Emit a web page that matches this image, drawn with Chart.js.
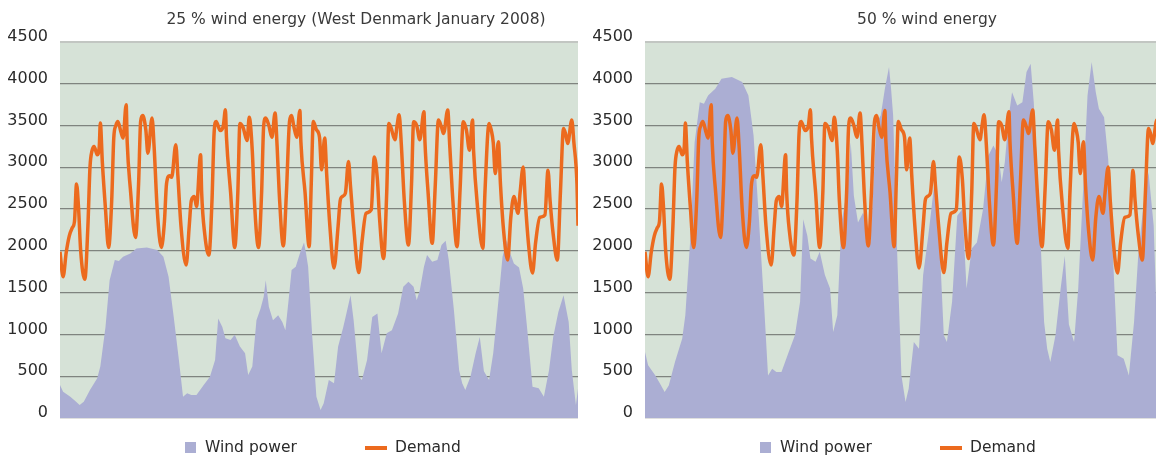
<!DOCTYPE html>
<html>
<head>
<meta charset="utf-8">
<title>Wind power and demand</title>
<script src="https://cdn.jsdelivr.net/npm/chart.js@4.4.1/dist/chart.umd.min.js"></script>
<style>
    html, body { margin: 0; padding: 0; background: #fff; overflow: hidden; }
    body { width: 1156px; height: 455px; position: relative; font-family: "DejaVu Sans", Verdana, sans-serif; color: #333; }
    canvas { position: absolute; top: 0; }
    #leftChart { left: 0; }
    #rightChart { left: 585px; }
    .title { position: absolute; top: 10px; font-size: 15.5px; line-height: 18px; text-align: center; white-space: nowrap; color: #3a3a3a; }
    .legend-box { position: absolute; top: 442px; width: 11px; height: 11px; background: #abaed3; }
    .legend-line { position: absolute; top: 446px; width: 22px; height: 4px; background: #ec6a1e; }
    .legend-text { position: absolute; top: 438px; font-size: 15.5px; line-height: 18px; white-space: nowrap; color: #2b2b2b; }
</style>
</head>
<body>
<canvas id="leftChart" width="585" height="455"></canvas>
<canvas id="rightChart" width="590" height="455"></canvas>

<div class="title" style="left:156px;width:400px;">25 % wind energy (West Denmark January 2008)</div>
<div class="title" style="left:777px;width:300px;">50 % wind energy</div>

<div class="legend-box" style="left:185px;"></div>
<div class="legend-text" style="left:205px;">Wind power</div>
<div class="legend-line" style="left:365px;"></div>
<div class="legend-text" style="left:395px;">Demand</div>

<div class="legend-box" style="left:760px;"></div>
<div class="legend-text" style="left:780px;">Wind power</div>
<div class="legend-line" style="left:940px;"></div>
<div class="legend-text" style="left:970px;">Demand</div>

<script>
    // Hours since start of the period (x axis, not labelled in the original)
    const demandHours = [
        0, 3, 6, 9, 12, 14, 16, 18, 20, 24,
        27, 29, 31, 33, 36, 38, 39, 41, 44, 47,
        50, 52, 54, 56, 59, 61, 64, 65, 68, 73,
        76, 78, 80, 83, 85, 89, 91, 94, 98,
        101, 103, 106, 108, 112, 114, 117, 122,
        125, 127, 130, 132, 136, 137, 140, 144,
        147, 149, 151, 155, 158, 160, 161, 165, 169,
        172, 174, 177, 181, 183, 186, 188, 192,
        195, 197, 199, 202, 205, 208, 210, 212, 216,
        219, 222, 224, 226, 229, 232, 233, 237, 241,
        243, 245, 248, 251, 253, 256, 258, 261, 265,
        269, 271, 273, 276, 279, 281, 284, 289,
        292, 296, 301, 304, 307, 309, 313,
        316, 318, 320, 324, 326, 328, 330, 333, 337,
        340, 342, 345, 348, 352, 353, 356, 360,
        363, 366, 369, 371, 375, 377, 380, 384,
        387, 390, 393, 396, 399, 400, 404, 409,
        411, 415, 417, 419, 421, 424, 426, 429, 433,
        436, 439, 443, 445, 448, 450, 453, 457,
        460, 464, 469, 472, 474, 477, 481,
        484, 487, 489, 491, 495, 497, 500, 501
    ];
    // Demand, MW (same curve in both panels)
    const demandMW = [
        1990, 1690, 1980, 2180, 2280, 2350, 2800, 2500, 2000, 1660,
        2300, 3000, 3200, 3250, 3150, 3250, 3530, 3050, 2500, 2040,
        2600, 3350, 3500, 3550, 3420, 3350, 3750, 3300, 2750, 2160,
        2800, 3550, 3620, 3450, 3170, 3590, 3250, 2500, 2040,
        2350, 2800, 2900, 2880, 3270, 2900, 2300, 1830,
        2300, 2600, 2650, 2530, 3150, 2700, 2200, 1950,
        2600, 3400, 3550, 3440, 3500, 3690, 3360, 2700, 2040,
        2700, 3525, 3480, 3320, 3600, 3190, 2600, 2040,
        2700, 3500, 3590, 3500, 3360, 3650, 3250, 2700, 2060,
        2700, 3550, 3620, 3500, 3360, 3680, 3300, 2700, 2050,
        2800, 3550, 3450, 3360, 2970, 3350, 2900, 2300, 1795,
        2300, 2600, 2650, 2690, 3070, 2770, 2300, 1740,
        2100, 2450, 2490, 3125, 2850, 2400, 1910,
        2700, 3525, 3480, 3330, 3500, 3630, 3300, 2600, 2070,
        2800, 3545, 3500, 3330, 3665, 3300, 2700, 2090,
        2800, 3565, 3480, 3405, 3685, 3250, 2600, 2050,
        2750, 3545, 3450, 3205, 3565, 3200, 2500, 2030,
        2700, 3525, 3450, 3300, 2925, 3305, 2800, 2250, 1890,
        2400, 2650, 2450, 2700, 3005, 2600, 2100, 1735,
        2100, 2400, 2430, 2965, 2600, 2200, 1890,
        2700, 3465, 3400, 3285, 3565, 3300, 2800, 2300
    ];

    const windHours = [
        0, 3, 10, 15, 19, 23, 29, 36, 39, 44,
        48, 53, 57, 61, 68, 74, 84, 94, 100, 105,
        110, 115, 119, 123, 127, 132, 139, 145, 150, 153,
        157, 160, 165, 169, 174, 179, 182, 186, 190, 194,
        197, 199, 202, 206, 211, 215, 218, 221, 224, 228,
        232, 236, 238, 240, 244, 248, 252, 255, 260, 265,
        269, 274, 277, 281, 284, 289, 292, 297, 302, 307,
        311, 316, 321, 327, 332, 337, 342, 345, 348, 352,
        355, 360, 365, 369, 373, 376, 381, 386, 389, 392,
        397, 402, 406, 410, 415, 419, 424, 428, 432, 436,
        439, 444, 448, 452, 457, 463, 468, 473, 477, 482,
        487, 492, 495, 499, 501
    ];
    // Wind power, MW - 25 % scenario (left)
    const wind25 = [
        395, 315, 255, 200, 155, 195, 335, 475, 615, 1090,
        1650, 1890, 1880, 1930, 1970, 2030, 2040, 2010, 1930, 1690,
        1210, 695, 255, 295, 275, 275, 395, 495, 695, 1190,
        1090, 955, 935, 995, 855, 775, 515, 615, 1170, 1310,
        1450, 1650, 1330, 1170, 1230, 1150, 1050, 1400, 1770, 1810,
        1970, 2100, 1970, 1810, 970, 255, 95, 175, 455, 415,
        855, 1090, 1250, 1470, 1170, 495, 455, 695, 1210, 1250,
        775, 1015, 1050, 1250, 1570, 1630, 1570, 1410, 1530, 1810,
        1950, 1870, 1890, 2070, 2120, 1890, 1290, 575, 415, 335,
        495, 775, 970, 560, 455, 775, 1400, 1930, 2130, 1950,
        1850, 1800, 1550, 1050, 375, 355, 255, 575, 970, 1270,
        1470, 1150, 575, 155, 350
    ];
    // Wind power, MW - 50 % scenario (right)
    const wind50 = [
        790, 630, 510, 400, 310, 390, 670, 950, 1230, 2180,
        3300, 3780, 3760, 3860, 3940, 4060, 4080, 4020, 3860, 3380,
        2420, 1390, 510, 590, 550, 550, 790, 990, 1390, 2380,
        2180, 1910, 1870, 1990, 1710, 1550, 1030, 1230, 2340, 2620,
        2900, 3300, 2660, 2340, 2460, 2300, 2100, 2800, 3540, 3620,
        3940, 4200, 3940, 3620, 1940, 510, 190, 350, 910, 830,
        1710, 2180, 2500, 2940, 2340, 990, 910, 1390, 2420, 2500,
        1550, 2030, 2100, 2500, 3140, 3260, 3140, 2820, 3060, 3620,
        3900, 3740, 3780, 4140, 4240, 3780, 2580, 1150, 830, 670,
        990, 1550, 1940, 1120, 910, 1550, 2800, 3860, 4260, 3900,
        3700, 3600, 3100, 2100, 750, 710, 510, 1150, 1940, 2540,
        2940, 2300, 1150, 310, 700
    ];

    const yTicks = [0, 500, 1000, 1500, 2000, 2500, 3000, 3500, 4000, 4500];

    // Light green plot background
    const plotBackground = {
        id: 'plotBackground',
        beforeDraw(chart) {
            const { ctx, chartArea } = chart;
            ctx.save();
            ctx.fillStyle = '#d6e2d7';
            ctx.fillRect(chartArea.left, chartArea.top, chartArea.right - chartArea.left, chartArea.bottom - chartArea.top);
            ctx.restore();
        }
    };

    function points(xs, ys) {
        return xs.map((x, i) => ({ x: x, y: ys[i] }));
    }

    function makeChart(canvasId, windValues, rightPad) {
        return new Chart(document.getElementById(canvasId), {
            type: 'line',
            data: {
                datasets: [{
                    label: 'Wind power',
                    data: points(windHours, windValues),
                    backgroundColor: '#abaed3',
                    borderWidth: 0,
                    pointRadius: 0,
                    fill: 'origin',
                    order: 2
                }, {
                    label: 'Demand',
                    data: points(demandHours, demandMW),
                    borderColor: '#ec6a1e',
                    borderWidth: 3.5,
                    pointRadius: 0,
                    fill: false,
                    cubicInterpolationMode: 'monotone',
                    order: 1
                }]
            },
            options: {
                responsive: false,
                animation: false,
                devicePixelRatio: 1,
                layout: { padding: { top: 42, bottom: 37, left: 0, right: rightPad } },
                plugins: {
                    legend: { display: false },
                    title: { display: false },
                    tooltip: { enabled: false }
                },
                scales: {
                    x: {
                        type: 'linear',
                        min: demandHours[0],
                        max: demandHours[demandHours.length - 1],
                        display: false
                    },
                    y: {
                        min: yTicks[0],
                        max: yTicks[yTicks.length - 1],
                        afterBuildTicks: scale => {
                            scale.ticks = yTicks.map(v => ({ value: v }));
                        },
                        afterFit: scale => { scale.width = 60; },
                        ticks: {
                            color: '#2b2b2b',
                            font: { family: 'DejaVu Sans', size: 16 },
                            padding: 12,
                            labelOffset: -5,
                            callback: v => String(v)
                        },
                        grid: {
                            drawTicks: false,
                            color: ctx => (ctx.tick && ctx.tick.value === 4500) ? '#c2c6c2' : '#7f847f',
                            lineWidth: ctx => (ctx.tick && ctx.tick.value === 4500) ? 2 : 1.3
                        },
                        border: { display: false }
                    }
                }
            },
            plugins: [plotBackground]
        });
    }

    makeChart('leftChart', wind25, 7);
    makeChart('rightChart', wind50, 12);
</script>
</body>
</html>
